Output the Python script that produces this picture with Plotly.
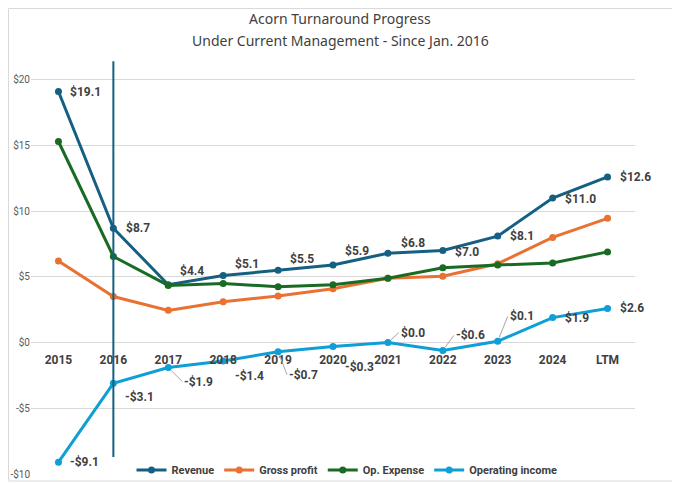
import plotly.graph_objects as go

# values in $M
periods = ["2015", "2016", "2017", "2018", "2019", "2020", "2021", "2022", "2023", "2024", "LTM"]
revenue = [19.1, 8.7, 4.4, 5.1, 5.5, 5.9, 6.8, 7.0, 8.1, 11.0, 12.6]
gross_profit = [6.2, 3.5, 2.45, 3.1, 3.55, 4.1, 4.9, 5.05, 6.0, 8.0, 9.45]
op_expense = [15.3, 6.55, 4.35, 4.5, 4.25, 4.4, 4.9, 5.7, 5.9, 6.05, 6.9]
op_income = [-9.1, -3.1, -1.9, -1.4, -0.7, -0.3, 0.0, -0.6, 0.1, 1.9, 2.6]

y_ticks = [-10, -5, 0, 5, 10, 15, 20]
y_tick_text = ["-$10", "-$5", "$0", "$5", "$10", "$15", "$20"]

# "current management" marker line
divider_period = "2016"
divider_span = [-8.7, 21.4]

c_rev = "#156082"
c_gp = "#E97132"
c_oe = "#196B24"
c_oi = "#0F9ED5"
txt = "#404040"
grid = "#D9D9D9"
font = "Roboto, sans-serif"

# page has an 8px body margin, so the figure is drawn 8px in from the corner
OFF = 8
W, H = 680 - OFF, 484 - OFF
# plot box in figure pixels
L, R, T, B = 31 - OFF, 635 - OFF, 60 - OFF, 474 - OFF
y_lo, y_hi = -10, 21.5


def money(v):
    return f"-${abs(v):.1f}" if v < 0 else f"${v:.1f}"


def px(xp, yp):
    # figure pixel -> paper coords
    return (xp - L) / (R - L), (B - yp) / (B - T)


# label placement: (dx, dy, leader) in pixels from the point
rev_pos = [(10, 0, 0), (11, 0, 0), (10, 14, 0), (10, 12, 0), (10, 11, 0), (10, 14, 0),
           (11, 10, 0), (10, -1, 0), (10, 0, 0), (10, -1, 0), (10, 0, 0)]
oi_pos = [(10, 0, 0), (10, -14, 0), (14, -14, 1), (10, -15, 0), (9, -23, 1), (10, -20, 0),
          (11, 10, 1), (11, 15, 1), (10, 25, 1), (10, 0, 0), (10, 0, 0)]

idx = list(range(len(periods)))

fig = go.Figure()
for name, vals, col in [("Revenue", revenue, c_rev), ("Gross profit", gross_profit, c_gp),
                        ("Op. Expense", op_expense, c_oe), ("Operating income", op_income, c_oi)]:
    fig.add_trace(go.Scatter(x=idx, y=vals, name=name, mode="lines+markers",
                             line=dict(color=col, width=3), marker=dict(size=7, color=col)))

d = periods.index(divider_period)
fig.add_shape(type="line", x0=d, x1=d, y0=divider_span[0], y1=divider_span[1],
              line=dict(color=c_rev, width=2))

annots = []
for vals, pos in [(revenue, rev_pos), (op_income, oi_pos)]:
    for i, v, (dx, dy, lead) in zip(idx, vals, pos):
        a = dict(x=i, y=v, text=money(v), xanchor="left", yanchor="middle",
                 font=dict(family=font, size=12, color=txt, weight="bold"))
        if lead:
            a.update(showarrow=True, ax=dx, ay=-dy, arrowhead=0, arrowwidth=1,
                     arrowcolor="#A6A6A6", standoff=4)
        else:
            a.update(showarrow=False, xshift=dx, yshift=dy)
        annots.append(a)

# chart title, two lines
for line, ypix in [("Acorn Turnaround Progress", 18 - OFF),
                   ("Under Current Management - Since Jan. 2016", 40 - OFF)]:
    tx, ty = px(340 - OFF, ypix)
    annots.append(dict(x=tx, y=ty, xref="paper", yref="paper", text=line,
                       showarrow=False, xanchor="center", yanchor="middle",
                       font=dict(family="Noto Sans, sans-serif", size=14, color=txt)))

lx, ly = px(347 - OFF, 470 - OFF)
fig.update_layout(
    width=W, height=H,
    margin=dict(l=L, r=W - R, t=T, b=H - B, autoexpand=False),
    paper_bgcolor="white", plot_bgcolor="white",
    xaxis=dict(range=[-0.5, 10.5], showgrid=False, showline=False, zeroline=False,
               anchor="free", position=(0 - y_lo) / (y_hi - y_lo),
               ticks="outside", ticklen=6, tickcolor="rgba(0,0,0,0)",
               tickvals=idx, ticktext=periods, automargin=False,
               tickfont=dict(family=font, size=12, color=txt, weight="bold")),
    yaxis=dict(range=[y_lo, y_hi], tickvals=y_ticks, ticktext=y_tick_text,
               showgrid=True, gridcolor=grid, gridwidth=1, zeroline=False,
               automargin=False, ticks="",
               tickfont=dict(family=font, size=10, color="#595959")),
    legend=dict(orientation="h", x=lx, xanchor="center", y=ly, yanchor="middle",
                itemwidth=30, font=dict(family=font, size=11, color=txt, weight="bold"),
                bgcolor="rgba(0,0,0,0)"),
    annotations=annots,
    showlegend=True,
)

# outer chart border
bx0, by0 = px(0.5, 481 - OFF)
bx1, by1 = px(677 - OFF, 0.5)
fig.add_shape(type="rect", xref="paper", yref="paper", x0=bx0, x1=bx1, y0=by0, y1=by1,
              line=dict(color="#D9D9D9", width=1))

fig.write_html("out.html")
